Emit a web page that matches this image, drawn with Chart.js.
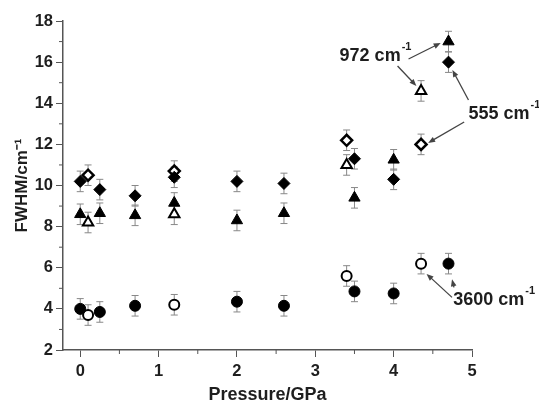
<!DOCTYPE html>
<html>
<head>
<meta charset="utf-8">
<script src="https://cdn.jsdelivr.net/npm/chart.js@4/dist/chart.umd.min.js"></script>
<style>
html, body { margin: 0; padding: 0; background: #fff; }
#wrap { width: 539px; height: 407px; }
</style>
</head>
<body>
<div id="wrap"><canvas id="fwhmChart"></canvas></div>
<script>
// pressure (GPa) vs FWHM (cm-1)
const p555 = [0, 0.25, 0.7, 1.2, 2.0, 2.6, 3.5, 4.0, 4.7];
const w555 = [10.2, 9.8, 9.5, 10.4, 10.2, 10.1, 11.3, 10.3, 16.0];
const p555o = [0.1, 1.2, 3.4, 4.35];
const w555o = [10.5, 10.7, 12.2, 12.0];

const p972 = [0, 0.25, 0.7, 1.2, 2.0, 2.6, 3.5, 4.0, 4.7];
const w972 = [8.6, 8.65, 8.55, 9.15, 8.3, 8.65, 9.4, 11.25, 17.0];
const p972o = [0.1, 1.2, 3.4, 4.35];
const w972o = [8.2, 8.6, 11.0, 14.6];

const p3600 = [0, 0.25, 0.7, 2.0, 2.6, 3.5, 4.0, 4.7];
const w3600 = [4.0, 3.85, 4.15, 4.35, 4.15, 4.85, 4.75, 6.2];
const p3600o = [0.1, 1.2, 3.4, 4.35];
const w3600o = [3.7, 4.2, 5.6, 6.2];

const errBar = 0.5; // +/- on every point

const xTicks = [0, 1, 2, 3, 4, 5];
const xMinor = [0.5, 1.5, 2.5, 3.5, 4.5];
const yMinor = [3, 5, 7, 9, 11, 13, 15, 17];

// labels + arrows, in data units
const notes = [
	{ text: '972 cm', x: 3.31, y: 16.3 },
	{ text: '555 cm', x: 4.955, y: 13.48 },
	{ text: '3600 cm', x: 4.76, y: 4.43 }
];
const arrows = [
	[4.19, 16.15, 4.60, 16.93],
	[4.05, 15.81, 4.29, 14.84],
	[4.955, 14.16, 4.75, 15.62],
	[4.90, 13.09, 4.44, 12.07],
	[4.745, 4.56, 4.42, 5.70],
	[4.77, 5.05, 4.745, 5.44]
];

const FONT = '"Liberation Sans", Arial, sans-serif';
const INK = '#1e1e1e';
const AXIS = '#555';

function pts(xs, ys) {
	return xs.map((x, i) => ({ x: x, y: ys[i] }));
}

function series(label, xs, ys, style, open, r, bw) {
	return {
		label: label,
		data: pts(xs, ys),
		showLine: false,
		pointStyle: style,
		pointRadius: r,
		pointHoverRadius: r,
		pointBackgroundColor: open ? '#fff' : '#000',
		pointBorderColor: '#000',
		pointBorderWidth: bw
	};
}

const errorBars = {
	id: 'errorBars',
	beforeDatasetsDraw(chart) {
		const ctx = chart.ctx;
		const ys = chart.scales.y;
		ctx.save();
		ctx.strokeStyle = '#888';
		ctx.lineWidth = 1;
		chart.data.datasets.forEach((ds, i) => {
			const meta = chart.getDatasetMeta(i);
			meta.data.forEach((el, j) => {
				const v = ds.data[j].y;
				const top = ys.getPixelForValue(v + errBar);
				const bot = ys.getPixelForValue(v - errBar);
				ctx.beginPath();
				ctx.moveTo(el.x, top); ctx.lineTo(el.x, bot);
				ctx.moveTo(el.x - 3.5, top); ctx.lineTo(el.x + 3.5, top);
				ctx.moveTo(el.x - 3.5, bot); ctx.lineTo(el.x + 3.5, bot);
				ctx.stroke();
			});
		});
		ctx.restore();
	}
};

const extras = {
	id: 'extras',
	afterDraw(chart) {
		const ctx = chart.ctx;
		const xs = chart.scales.x, ys = chart.scales.y;
		const area = chart.chartArea;
		ctx.save();
		// minor ticks
		ctx.strokeStyle = AXIS;
		ctx.lineWidth = 1;
		ctx.beginPath();
		xMinor.forEach(v => {
			const px = xs.getPixelForValue(v);
			ctx.moveTo(px, area.bottom); ctx.lineTo(px, area.bottom + 4);
		});
		yMinor.forEach(v => {
			const py = ys.getPixelForValue(v);
			ctx.moveTo(area.left, py); ctx.lineTo(area.left - 4, py);
		});
		ctx.stroke();

		// arrows
		ctx.strokeStyle = '#444';
		ctx.fillStyle = '#444';
		ctx.lineWidth = 1.3;
		arrows.forEach(a => {
			const x1 = xs.getPixelForValue(a[0]), y1 = ys.getPixelForValue(a[1]);
			const x2 = xs.getPixelForValue(a[2]), y2 = ys.getPixelForValue(a[3]);
			const ang = Math.atan2(y2 - y1, x2 - x1);
			ctx.beginPath();
			ctx.moveTo(x1, y1);
			ctx.lineTo(x2 - 4 * Math.cos(ang), y2 - 4 * Math.sin(ang));
			ctx.stroke();
			ctx.beginPath();
			ctx.moveTo(x2, y2);
			ctx.lineTo(x2 - 7 * Math.cos(ang) + 2.8 * Math.sin(ang), y2 - 7 * Math.sin(ang) - 2.8 * Math.cos(ang));
			ctx.lineTo(x2 - 7 * Math.cos(ang) - 2.8 * Math.sin(ang), y2 - 7 * Math.sin(ang) + 2.8 * Math.cos(ang));
			ctx.closePath();
			ctx.fill();
		});

		// labels with superscript -1
		ctx.fillStyle = INK;
		ctx.textBaseline = 'middle';
		ctx.textAlign = 'left';
		notes.forEach(n => {
			const px = xs.getPixelForValue(n.x), py = ys.getPixelForValue(n.y);
			ctx.font = 'bold 18px ' + FONT;
			ctx.fillText(n.text, px, py);
			const w = ctx.measureText(n.text).width;
			ctx.font = 'bold 11px ' + FONT;
			ctx.fillText('-1', px + w + 1, py - 9);
		});
		ctx.restore();
	}
};

const tickFont = { family: FONT, size: 16.5, weight: 'bold' };

new Chart(document.getElementById('fwhmChart'), {
	type: 'scatter',
	data: {
		datasets: [
			series('972 filled', p972, w972, 'triangle', false, 6.5, 1),
			series('972 open', p972o, w972o, 'triangle', true, 6, 2),
			series('555 filled', p555, w555, 'rectRot', false, 6, 1),
			series('555 open', p555o, w555o, 'rectRot', true, 5.5, 2.5),
			series('3600 filled', p3600, w3600, 'circle', false, 5.5, 1),
			series('3600 open', p3600o, w3600o, 'circle', true, 5, 2)
		]
	},
	options: {
		responsive: true,
		maintainAspectRatio: false,
		animation: false,
		layout: { padding: { top: 21, right: 67, left: 0, bottom: 0 } },
		plugins: {
			legend: { display: false },
			tooltip: { enabled: false }
		},
		scales: {
			x: {
				type: 'linear',
				min: -0.22,
				max: 5,
				afterBuildTicks(s) { s.ticks = xTicks.map(v => ({ value: v })); },
				afterFit(s) { s.height = 57; },
				ticks: { color: INK, font: tickFont, padding: 5, maxRotation: 0 },
				grid: { drawOnChartArea: false, tickLength: 7, color: AXIS },
				border: { color: AXIS, width: 1.5 },
				title: {
					display: true,
					text: 'Pressure/GPa',
					color: INK,
					font: { family: FONT, size: 18, weight: 'bold' },
					padding: { top: 0, bottom: 1 }
				}
			},
			y: {
				min: 2,
				max: 18,
				afterFit(s) { s.width = 63; },
				ticks: { stepSize: 2, color: INK, font: tickFont, padding: 3 },
				grid: { drawOnChartArea: false, tickLength: 7, color: AXIS },
				border: { color: AXIS, width: 1.5 },
				title: {
					display: true,
					text: 'FWHM/cm\u207B\u00B9',
					color: INK,
					font: { family: FONT, size: 17, weight: 'bold' },
					padding: { top: 12, bottom: 0 }
				}
			}
		}
	},
	plugins: [errorBars, extras]
});
</script>
</body>
</html>
